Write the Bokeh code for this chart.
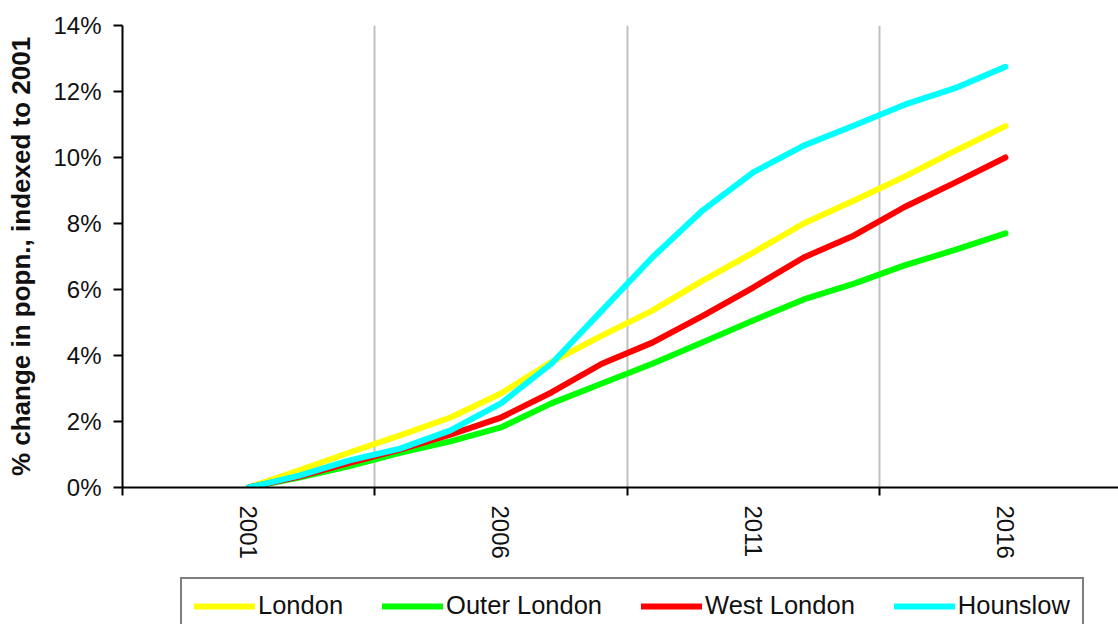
import math
from bokeh.plotting import figure
from bokeh.layouts import column
from bokeh.models import Range1d, FixedTicker, Legend, LegendItem, PrintfTickFormatter
from bokeh.embed import file_html
from bokeh.resources import INLINE

years = list(range(2001, 2017))
london = [0, 0.52, 1.06, 1.58, 2.12, 2.85, 3.8, 4.6, 5.36, 6.27, 7.12, 8.0, 8.7, 9.42, 10.2, 10.95]
outer_london = [0, 0.3, 0.65, 1.05, 1.4, 1.82, 2.55, 3.15, 3.75, 4.4, 5.06, 5.7, 6.18, 6.73, 7.2, 7.7]
west_london = [0, 0.33, 0.75, 1.15, 1.6, 2.12, 2.88, 3.75, 4.39, 5.2, 6.06, 6.97, 7.64, 8.5, 9.24, 10.0]
hounslow = [0, 0.36, 0.82, 1.18, 1.73, 2.55, 3.75, 5.36, 6.97, 8.4, 9.55, 10.36, 10.97, 11.6, 12.1, 12.75]

series_names = ["London", "Outer London", "West London", "Hounslow"]
series_values = [london, outer_london, west_london, hounslow]
series_colors = ["#FFFF00", "#00FF00", "#FF0000", "#00FFFF"]

label_years = [2001, 2006, 2011, 2016]
boundary_ticks = [1998.5, 2003.5, 2008.5, 2013.5, 2018.5]
grid_ticks = [2003.5, 2008.5, 2013.5]
y_ticks = [0, 2, 4, 6, 8, 10, 12, 14]

FONT = "Liberation Sans"
TXT = "#111111"

p = figure(width=1118, height=570, output_backend="svg", toolbar_location=None,
           x_range=Range1d(1998.5, 2018.24), y_range=Range1d(0, 14),
           min_border_left=122, min_border_top=25, min_border_right=0,
           min_border_bottom=83)
p.outline_line_color = None

# x axis
xa = p.xaxis[0]
xa.ticker = FixedTicker(ticks=label_years, minor_ticks=boundary_ticks)
xa.major_tick_line_color = None
xa.major_tick_out = 8
xa.major_tick_in = 0
xa.minor_tick_out = 8
xa.minor_tick_in = 0
xa.minor_tick_line_color = "black"
xa.minor_tick_line_width = 2
xa.axis_line_color = "black"
xa.axis_line_width = 2
xa.major_label_orientation = -math.pi / 2
xa.major_label_standoff = 10
xa.major_label_text_font = FONT
xa.major_label_text_font_size = "24px"
xa.major_label_text_color = TXT

# y axis
ya = p.yaxis[0]
ya.ticker = FixedTicker(ticks=y_ticks)
ya.formatter = PrintfTickFormatter(format="%d%%")
ya.major_tick_out = 9
ya.major_tick_in = 0
ya.minor_tick_line_color = None
ya.major_tick_line_width = 2
ya.axis_line_width = 2
ya.axis_line_color = "black"
ya.major_label_standoff = 12
ya.major_label_text_font = FONT
ya.major_label_text_font_size = "24px"
ya.major_label_text_color = TXT
ya.axis_label = "% change in popn., indexed to 2001"
ya.axis_label_text_font = FONT
ya.axis_label_text_font_style = "bold"
ya.axis_label_text_font_size = "26px"
ya.axis_label_text_color = TXT
ya.axis_label_standoff = 14

# grids
p.ygrid.grid_line_color = None
p.xgrid.ticker = FixedTicker(ticks=grid_ticks)
p.xgrid.grid_line_color = "#C0C0C0"
p.xgrid.grid_line_width = 2

for vals, col in zip(series_values, series_colors):
    p.line(years, vals, line_color=col, line_width=6, line_join="round", line_cap="round")

# legend strip below the chart (same series, drawn outside its visible range)
p2 = figure(width=1118, height=54, output_backend="svg", toolbar_location=None,
            x_range=Range1d(0, 1), y_range=Range1d(100, 101),
            x_axis_location=None, y_axis_location=None,
            min_border=0, min_border_left=0, min_border_right=0,
            min_border_top=0, min_border_bottom=0)
p2.outline_line_color = None
p2.grid.grid_line_color = None
items = []
for name, vals, col in zip(series_names, series_values, series_colors):
    r = p2.line(years, vals, line_color=col, line_width=6, line_cap="round")
    items.append(LegendItem(label=name, renderers=[r]))

legend = Legend(items=items, orientation="horizontal", location=(58, -10),
                border_line_color="black", border_line_width=2,
                background_fill_color="white", background_fill_alpha=1,
                label_text_font=FONT, label_text_font_size="25.5px", label_text_color=TXT,
                glyph_width=61, glyph_height=24, label_standoff=3, spacing=39,
                padding=12, margin=0)
p2.add_layout(legend, "center")

layout = column(p, p2, spacing=0)
open("out.html", "w").write(file_html(layout, INLINE))
